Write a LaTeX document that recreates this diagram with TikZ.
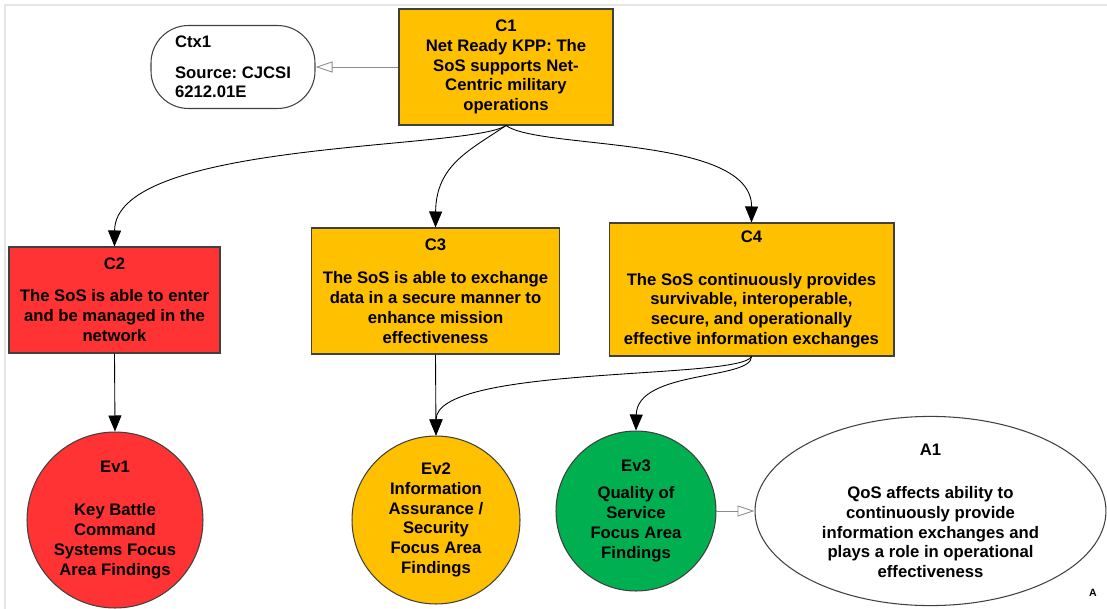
\documentclass[tikz,border=0pt]{standalone}
\usepackage{fontspec}
\setmainfont{Liberation Sans}
\usetikzlibrary{arrows.meta,shapes.geometric}
\frenchspacing

\definecolor{gsnorange}{HTML}{FFC000}
\definecolor{gsnred}{HTML}{FF3333}
\definecolor{gsngreen}{HTML}{00B050}

\begin{document}
\begin{tikzpicture}[
		x=0.02cm, y=-0.02cm,
		font=\fontsize{9.5}{11.3}\selectfont\bfseries,
		claim/.style={ draw=black!75, line width=.6pt, fill=gsnorange, align=center, inner sep=0pt, },
		evid/.style={ draw=black!75, line width=.6pt, circle, align=center, inner sep=0pt, },
		ctxbox/.style={ draw=black!75, line width=.6pt, rounded corners=.75cm, align=left, inner sep=0pt, },
		assum/.style={ draw=black!75, line width=.6pt, ellipse, align=center, inner sep=0pt, },
		goes/.style={ line width=.5pt, -{Triangle[length=.32cm,width=.26cm]}, },
		incontext/.style={ black!45, line width=.5pt, -{Triangle[open,length=.34cm,width=.22cm]}, },
		]
		\useasboundingbox(0,0)rectangle(1107,609);
		\draw[black!10,line width=1pt](5,609)--(5,5)--(1107,5);

		\node[claim,minimum width=4.28cm,minimum height=2.32cm](c1)at(506,67)
			{C1\\Net Ready KPP: The\\SoS supports Net-\\Centric military\\operations};
		\node[ctxbox,minimum width=3.28cm,minimum height=1.66cm](ctx1)at(233,67)
			{Ctx1\\[6pt]Source: CJCSI\\6212.01E};
		\draw[incontext](c1.west)--(ctx1.east);

		\node[claim,fill=gsnred,minimum width=4.22cm,minimum height=2.12cm](c2)at(114.5,300)
			{C2\\[7pt]The SoS is able to enter\\and be managed in the\\network};
		\node[claim,minimum width=4.96cm,minimum height=2.52cm](c3)at(435.5,291)
			{C3\\[8pt]The SoS is able to exchange\\data in a secure manner to\\enhance mission\\effectiveness};
		\node[claim,minimum width=5.7cm,minimum height=2.66cm](c4)at(751.5,289.5)
			{C4\\[13pt]The SoS continuously provides\\survivable, interoperable,\\secure, and operationally\\effective information exchanges};

		\draw[goes](c1.south)..controls(470,150)and(115,140)..(c2.north);
		\draw[goes](c1.south)..controls(470,150)and(436,165)..(c3.north);
		\draw[goes](c1.south)..controls(540,150)and(752,135)..(c4.north);

		\node[evid,fill=gsnred,minimum size=3.52cm](ev1)at(115,520)
			{Ev1\\[13pt]Key Battle\\Command\\Systems Focus\\Area Findings};
		\node[evid,fill=gsnorange,minimum size=3.36cm](ev2)at(436,520)
			{Ev2\\Information\\Assurance /\\Security\\Focus Area\\Findings};
		\node[evid,fill=gsngreen,minimum size=3.2cm](ev3)at(636,511)
			{Ev3\\[4pt]Quality of\\Service\\Focus Area\\Findings};
		\node[assum,minimum width=7.02cm,minimum height=3.64cm](a1)at(930.5,511)
			{A1\\[13pt]QoS affects ability to\\continuously provide\\information exchanges and\\plays a role in operational\\effectiveness};
		\node[font=\fontsize{6}{7}\selectfont\bfseries](a1mark)at(1093,593){A};

		\draw[goes](c2.south)--(ev1.north);
		\draw[goes](c3.south)--(ev2.north);
		\draw[goes](c4.south)..controls(740,380)and(436,365)..(ev2.north);
		\draw[goes](c4.south)..controls(752,380)and(637,370)..(ev3.north);
		\draw[incontext](ev3.east)--(a1.west);
	\end{tikzpicture}
\end{document}
